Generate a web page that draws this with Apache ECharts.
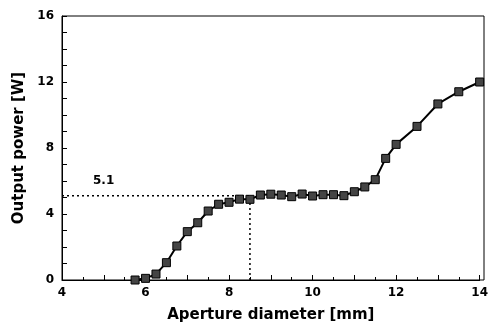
<!DOCTYPE html>
<html>
<head>
<meta charset="utf-8">
<script src="https://cdn.jsdelivr.net/npm/echarts@6/dist/echarts.min.js"></script>
<style>
    html, body { margin: 0; padding: 0; background: #fff; }
    #chart { width: 491px; height: 328px; }
</style>
</head>
<body>
<div id="chart"></div>
<script>
// aperture diameter [mm]
var diameters = [5.75, 6, 6.25, 6.5, 6.75, 7, 7.25, 7.5, 7.75, 8, 8.25, 8.5, 8.75, 9,
    9.25, 9.5, 9.75, 10, 10.25, 10.5, 10.75, 11, 11.25, 11.5, 11.75, 12, 12.5, 13, 13.5, 14];
// output power [W]
var powers = [0, 0.1, 0.36, 1.05, 2.06, 2.93, 3.47, 4.18, 4.59, 4.71, 4.9, 4.89, 5.15, 5.2,
    5.15, 5.05, 5.21, 5.09, 5.17, 5.17, 5.11, 5.35, 5.64, 6.08, 7.37, 8.22, 9.31, 10.67, 11.41, 12.0];
// dotted guide at 5.1 W, drawn to 8.5 mm
var guideX = [4, 8.5, 8.5];
var guideY = [5.1, 5.1, 0];
var guideLabel = '5.1';

var font = 'DejaVu Sans';

var data = diameters.map(function (d, i) { return [d, powers[i]]; });
var guide = guideX.map(function (d, i) { return [d, guideY[i]]; });

var myChart = echarts.init(document.getElementById('chart'));
var option = {
    animation: false,
    grid: { left: 62, right: 7, top: 16, bottom: 48 },
    xAxis: {
        type: 'value',
        min: 4,
        max: 14,
        interval: 1,
        name: 'Aperture diameter [mm]',
        nameLocation: 'middle',
        nameGap: 28,
        nameTextStyle: { fontFamily: font, fontWeight: 'bold', fontSize: 15, color: '#000' },
        axisLine: { show: true, lineStyle: { color: '#000', width: 1 } },
        axisTick: { inside: true, length: 5, lineStyle: { color: '#000' } },
        minorTick: { show: true, splitNumber: 2, length: 3, lineStyle: { color: '#000' } },
        axisLabel: {
            fontFamily: font, fontWeight: 'bold', fontSize: 12, color: '#000', margin: 7,
            formatter: function (v) { return v % 2 === 0 ? v : ''; }
        },
        splitLine: { show: false }
    },
    yAxis: {
        type: 'value',
        min: 0,
        max: 16,
        interval: 1,
        name: 'Output power [W]',
        nameLocation: 'middle',
        nameGap: 33,
        nameTextStyle: { fontFamily: font, fontWeight: 'bold', fontSize: 15, color: '#000' },
        axisLine: { show: true, lineStyle: { color: '#000', width: 1 } },
        axisTick: { inside: true, length: 5, lineStyle: { color: '#000' } },
        axisLabel: {
            fontFamily: font, fontWeight: 'bold', fontSize: 12, color: '#000', margin: 8,
            formatter: function (v) { return v % 4 === 0 ? v : ''; }
        },
        splitLine: { show: false }
    },
    series: [{
        type: 'line',
        data: guide,
        symbol: 'none',
        silent: true,
        lineStyle: { color: '#000', width: 1.5, type: [2, 3] },
        z: 1
    }, {
        type: 'line',
        data: data,
        symbol: 'rect',
        symbolSize: 8,
        itemStyle: { color: '#444', borderColor: '#000', borderWidth: 1 },
        lineStyle: { color: '#000', width: 2 },
        z: 3
    }],
    graphic: [{
        type: 'rect',
        shape: { x: 62, y: 16, width: 422, height: 264 },
        style: { fill: 'none', stroke: '#000', lineWidth: 1 },
        silent: true
    }, {
        type: 'text',
        left: 93,
        top: 175,
        style: { text: guideLabel, font: 'bold 12px ' + font, fill: '#000' }
    }]
};
myChart.setOption(option);
</script>
</body>
</html>
